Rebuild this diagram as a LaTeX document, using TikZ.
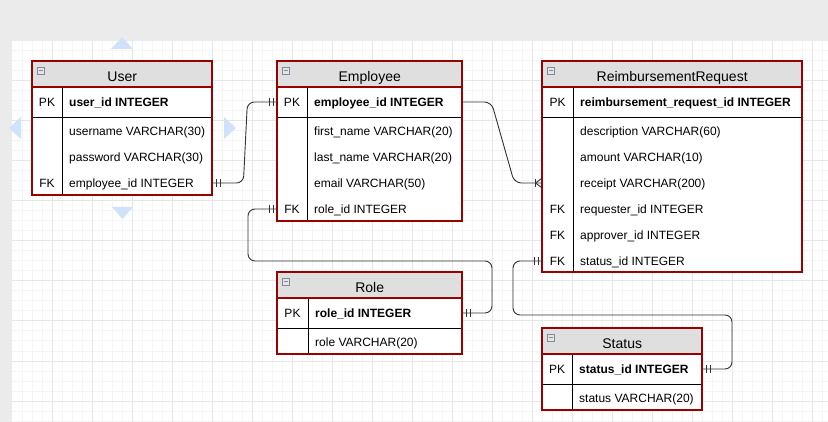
\documentclass[tikz,border=0pt]{standalone}
\usepackage{fontspec}
\setmainfont{Liberation Sans}
\usetikzlibrary{calc,decorations.markings}
\definecolor{ERRed}{HTML}{990000}
\definecolor{HeadGray}{HTML}{DFDFDF}
\definecolor{CanvasGray}{HTML}{EBEBEB}
\definecolor{GridMinor}{HTML}{F5F5F5}
\definecolor{GridMajor}{HTML}{E6E6E6}
\definecolor{HoverBlue}{HTML}{CFE2FA}
\definecolor{IconEdge}{HTML}{7F8C99}
\definecolor{IconFill}{HTML}{E4E4E4}
\tikzset{
    tbl/.style = {fill=white, anchor=north west, inner sep=0pt},
    hdr/.style = {fill=HeadGray, anchor=north west, inner sep=0pt, minimum height=26pt},
    tblframe/.style = {draw=ERRed, line width=2pt},
    rowline/.style = {draw=black, line width=.8pt},
    title/.style = {font=\fontsize{14}{16}\selectfont, text height=10pt, text depth=0pt, inner sep=0pt},
    key/.style = {font=\fontsize{12}{14}\selectfont, minimum width=30pt, text height=9pt, text depth=0pt, inner sep=0pt},
    field/.style = {font=\fontsize{12}{14}\selectfont, anchor=west, inner xsep=7pt, inner ysep=0pt,
        minimum height=26pt, text height=9pt, text depth=0pt},
    btn/.style = {draw=IconEdge, fill=IconFill, line width=.6pt, minimum size=7pt, inner sep=0pt,
        path picture={\draw[IconEdge, line width=.8pt] ([xshift=-2pt]path picture bounding box.center) -- ([xshift=2pt]path picture bounding box.center);}},
    rel/.style = {draw=black!80, line width=.9pt, rounded corners=7pt},
    one2one/.style = {postaction={decorate, decoration={markings,
        mark=at position 4pt with {\draw[black!80, line width=.9pt] (0,-4pt) -- (0,4pt);},
        mark=at position 8pt with {\draw[black!80, line width=.9pt] (0,-4pt) -- (0,4pt);},
        mark=at position -4pt with {\draw[black!80, line width=.9pt] (0,-4pt) -- (0,4pt);},
        mark=at position -8pt with {\draw[black!80, line width=.9pt] (0,-4pt) -- (0,4pt);}}}},
    one2many/.style = {postaction={decorate, decoration={markings,
        mark=at position -7pt with {\draw[black!80, line width=.9pt] (0,-4pt) -- (0,4pt);},
        mark=at position -0.5pt with {\draw[black!80, line width=.9pt] (-6pt,0) -- (0,-4.5pt) (-6pt,0) -- (0,4.5pt);}}}}
}

\begin{document}
\begin{tikzpicture}[x=1pt,y=-1pt]
    \useasboundingbox (0,0) rectangle (828,422);
    % canvas and grid
    \fill[CanvasGray] (0,0) rectangle (828,422);
    \fill[white] (12,41) rectangle (828,422);
    \foreach \gx in {22,32,...,822} \draw[GridMinor, line width=1pt] (\gx,41) -- (\gx,422);
    \foreach \gy in {51,61,...,421} \draw[GridMinor, line width=1pt] (12,\gy) -- (828,\gy);
    \foreach \gx in {52,92,...,812} \draw[GridMajor, line width=1pt] (\gx,41) -- (\gx,422);
    \foreach \gy in {81,121,...,401} \draw[GridMajor, line width=1pt] (12,\gy) -- (828,\gy);
    % hover arrows round User
    \fill[HoverBlue] (111,49) -- (133,49) -- (122,37) -- cycle;
    \fill[HoverBlue] (112,207) -- (133,207) -- (122.5,219) -- cycle;
    \fill[HoverBlue] (21,117) -- (21,139) -- (9,128) -- cycle;
    \fill[HoverBlue] (224,117) -- (224,139) -- (236,128) -- cycle;

    % User
    \node[tbl, minimum width=180, minimum height=134] (user) at (32,61) {};
    \node[hdr, minimum width=180] (user-hdr) at (32,61) {};
    \node[title] (user-title) at ([yshift=-2pt]user-hdr.center) {User};
    \node[btn] (user-btn) at ($(user-hdr.north west)+(8.5,9.5)$) {};
    \draw[rowline] (62,87) -- (62,195);
    \draw[rowline] (32,117) -- (212,117);
    \node[key] (user-k1) at (47,102) {PK};
    \node[field] (user-id) at (62,102) {\textbf{user\_id INTEGER}};
    \node[field] (user-name) at (62,131) {username VARCHAR(30)};
    \node[field] (user-pass) at (62,157) {password VARCHAR(30)};
    \node[key] (user-k2) at (47,183) {FK};
    \node[field] (user-emp) at (62,183) {employee\_id INTEGER};
    \draw[tblframe] (user.north west) rectangle (user.south east);
    \draw[tblframe] (user-hdr.south west) -- (user-hdr.south east);

    % Employee
    \node[tbl, minimum width=185, minimum height=160] (emp) at (277,61) {};
    \node[hdr, minimum width=185] (emp-hdr) at (277,61) {};
    \node[title] (emp-title) at ([yshift=-2pt]emp-hdr.center) {Employee};
    \node[btn] (emp-btn) at ($(emp-hdr.north west)+(8.5,9.5)$) {};
    \draw[rowline] (307,87) -- (307,221);
    \draw[rowline] (277,117) -- (462,117);
    \node[key] (emp-k1) at (292,102) {PK};
    \node[field] (emp-id) at (307,102) {\textbf{employee\_id INTEGER}};
    \node[field] (emp-first) at (307,131) {first\_name VARCHAR(20)};
    \node[field] (emp-last) at (307,157) {last\_name VARCHAR(20)};
    \node[field] (emp-mail) at (307,183) {email VARCHAR(50)};
    \node[key] (emp-k2) at (292,209) {FK};
    \node[field] (emp-role) at (307,209) {role\_id INTEGER};
    \draw[tblframe] (emp.north west) rectangle (emp.south east);
    \draw[tblframe] (emp-hdr.south west) -- (emp-hdr.south east);

    % ReimbursementRequest
    \node[tbl, minimum width=260, minimum height=211] (rr) at (542,61) {};
    \node[hdr, minimum width=260] (rr-hdr) at (542,61) {};
    \node[title] (rr-title) at ([yshift=-2pt]rr-hdr.center) {ReimbursementRequest};
    \node[btn] (rr-btn) at ($(rr-hdr.north west)+(8.5,9.5)$) {};
    \draw[rowline] (573,87) -- (573,272);
    \draw[rowline] (542,117) -- (802,117);
    \node[key] (rr-k1) at (557.5,102) {PK};
    \node[field] (rr-id) at (573,102) {\textbf{reimbursement\_request\_id INTEGER}};
    \node[field] (rr-desc) at (573,131) {description VARCHAR(60)};
    \node[field] (rr-amount) at (573,157) {amount VARCHAR(10)};
    \node[field] (rr-receipt) at (573,183) {receipt VARCHAR(200)};
    \node[key] (rr-k2) at (557.5,209) {FK};
    \node[field] (rr-requester) at (573,209) {requester\_id INTEGER};
    \node[key] (rr-k3) at (557.5,235) {FK};
    \node[field] (rr-approver) at (573,235) {approver\_id INTEGER};
    \node[key] (rr-k4) at (557.5,261) {FK};
    \node[field] (rr-status) at (573,261) {status\_id INTEGER};
    \draw[tblframe] (rr.north west) rectangle (rr.south east);
    \draw[tblframe] (rr-hdr.south west) -- (rr-hdr.south east);

    % Role
    \node[tbl, minimum width=185, minimum height=82] (role) at (277,272) {};
    \node[hdr, minimum width=185] (role-hdr) at (277,272) {};
    \node[title] (role-title) at ([yshift=-2pt]role-hdr.center) {Role};
    \node[btn] (role-btn) at ($(role-hdr.north west)+(8.5,9.5)$) {};
    \draw[rowline] (308,298) -- (308,354);
    \draw[rowline] (277,328) -- (462,328);
    \node[key] (role-k1) at (292.5,313) {PK};
    \node[field] (role-id) at (308,313) {\textbf{role\_id INTEGER}};
    \node[field] (role-name) at (308,342) {role VARCHAR(20)};
    \draw[tblframe] (role.north west) rectangle (role.south east);
    \draw[tblframe] (role-hdr.south west) -- (role-hdr.south east);

    % Status
    \node[tbl, minimum width=160, minimum height=82] (status) at (542,328) {};
    \node[hdr, minimum width=160] (status-hdr) at (542,328) {};
    \node[title] (status-title) at ([yshift=-2pt]status-hdr.center) {Status};
    \node[btn] (status-btn) at ($(status-hdr.north west)+(8.5,9.5)$) {};
    \draw[rowline] (572,354) -- (572,410);
    \draw[rowline] (542,384) -- (702,384);
    \node[key] (status-k1) at (557,369) {PK};
    \node[field] (status-id) at (572,369) {\textbf{status\_id INTEGER}};
    \node[field] (status-name) at (572,398) {status VARCHAR(20)};
    \draw[tblframe] (status.north west) rectangle (status.south east);
    \draw[tblframe] (status-hdr.south west) -- (status-hdr.south east);

    % relations
    \draw[rel, one2one] (user-emp -| user.east) -- ++(31,0) -- ++(4,-81) -- (emp-id -| emp.west);
    \draw[rel, one2many] (emp-id -| emp.east) -- ++(29,0) -- ++(23,81) -- (rr-receipt -| rr.west);
    \draw[rel, one2one] (emp-role -| emp.west) -- ++(-29,0) -- ++(0,52) -- ++(244,0) |- (role-id -| role.east);
    \draw[rel, one2one] (rr-status -| rr.west) -- ++(-29,0) -- ++(0,54) -- ++(219,0) |- (status-id -| status.east);
\end{tikzpicture}
\end{document}
